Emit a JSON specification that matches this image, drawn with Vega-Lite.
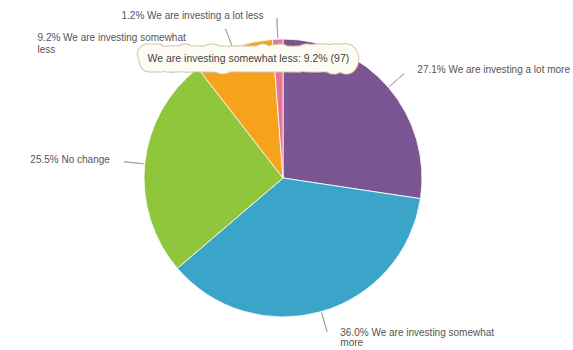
{
  "$schema": "https://vega.github.io/schema/vega-lite/v6.json",
  "width": 566,
  "height": 344,
  "autosize": "none",
  "padding": {"left": 0, "top": 6, "right": 7, "bottom": 0},
  "background": "#ffffff",
  "config": {"view": {"stroke": null}, "text": {"font": "Liberation Sans"}},
  "data": {
    "values": [
      {"category": "We are investing a lot more", "pct": 27.1, "rank": 1, "label": "27.1% We are investing a lot more"},
      {"category": "We are investing somewhat more", "pct": 36.0, "rank": 2, "label": "36.0% We are investing somewhat\nmore"},
      {"category": "No change", "pct": 25.5, "rank": 3, "label": "25.5% No change"},
      {"category": "We are investing somewhat less", "pct": 9.2, "rank": 4, "label": "9.2% We are investing somewhat\nless"},
      {"category": "We are investing a lot less", "pct": 1.2, "rank": 5, "label": "1.2% We are investing a lot less"}
    ]
  },
  "encoding": {
    "theta": {"field": "pct", "type": "quantitative", "stack": true},
    "order": {"field": "rank", "type": "quantitative"},
    "detail": {"field": "category", "type": "nominal"}
  },
  "layer": [
    {
      "mark": {"type": "arc", "outerRadius": 139, "stroke": "#ffffff", "strokeWidth": 0.8},
      "encoding": {
        "color": {
          "field": "category", "type": "nominal", "legend": null,
          "scale": {
            "domain": ["We are investing a lot more", "We are investing somewhat more", "No change", "We are investing somewhat less", "We are investing a lot less"],
            "range": ["#7b5592", "#3aa5c9", "#90c63c", "#f6a21d", "#e57598"]
          }
        }
      }
    },
    {
      "mark": {"type": "arc", "radius": 160, "radius2": 140, "padAngle": 3.1, "fillOpacity": 0, "stroke": "#9a9a9a", "strokeWidth": 0.8}
    },
    {
      "mark": {"type": "text", "radius": 168, "align": "left", "baseline": "middle", "dx": 7, "dy": 2, "fontSize": 10, "color": "#555555", "lineBreak": "\n"},
      "encoding": {"text": {"condition": {"test": "datum.rank == 1", "field": "label"}, "value": ""}}
    },
    {
      "mark": {"type": "text", "radius": 168, "align": "left", "baseline": "middle", "dx": 11, "dy": -6, "fontSize": 10, "color": "#555555", "lineBreak": "\n", "lineHeight": 10},
      "encoding": {"text": {"condition": {"test": "datum.rank == 2", "field": "label"}, "value": ""}}
    },
    {
      "mark": {"type": "text", "radius": 168, "align": "right", "baseline": "middle", "dx": -6, "dy": -1, "fontSize": 10, "color": "#555555", "lineBreak": "\n"},
      "encoding": {"text": {"condition": {"test": "datum.rank == 3", "field": "label"}, "value": ""}}
    },
    {
      "mark": {"type": "text", "radius": 168, "align": "left", "baseline": "middle", "dx": -185, "dy": 17, "fontSize": 10, "color": "#555555", "lineBreak": "\n", "lineHeight": 12},
      "encoding": {"text": {"condition": {"test": "datum.rank == 4", "field": "label"}, "value": ""}}
    },
    {
      "mark": {"type": "text", "radius": 168, "align": "right", "baseline": "middle", "dx": -13, "dy": 6, "fontSize": 10, "color": "#555555", "lineBreak": "\n"},
      "encoding": {"text": {"condition": {"test": "datum.rank == 5", "field": "label"}, "value": ""}}
    },
    {
      "mark": {"type": "text", "radius": 124, "align": "center", "baseline": "middle", "dx": 10, "dy": -3, "fontSize": 10.5, "color": "#d2c2a4", "stroke": "#d2c2a4", "strokeWidth": 21, "strokeJoin": "round"},
      "encoding": {"text": {"condition": {"test": "datum.rank == 4", "value": "We are investing somewhat less: 9.2% (97)"}, "value": ""}}
    },
    {
      "mark": {"type": "text", "radius": 124, "align": "center", "baseline": "middle", "dx": 10, "dy": -3, "fontSize": 10.5, "color": "#fdfcf4", "stroke": "#fdfcf4", "strokeWidth": 19, "strokeJoin": "round"},
      "encoding": {"text": {"condition": {"test": "datum.rank == 4", "value": "We are investing somewhat less: 9.2% (97)"}, "value": ""}}
    },
    {
      "mark": {"type": "text", "radius": 124, "align": "center", "baseline": "middle", "dx": 10, "dy": -3, "fontSize": 10.5, "color": "#444444"},
      "encoding": {"text": {"condition": {"test": "datum.rank == 4", "value": "We are investing somewhat less: 9.2% (97)"}, "value": ""}}
    }
  ]
}
